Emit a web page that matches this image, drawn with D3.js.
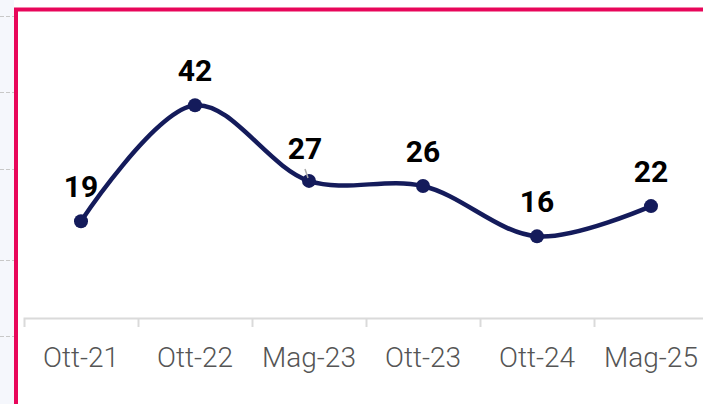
<!DOCTYPE html>
<html>
<head>
    <meta charset="utf-8" />
    <script src="https://d3js.org/d3.v7.min.js"></script>
    <style>
        body { margin: 0; background: #fff; }
        svg { display: block; }
        .tick text { font-family: Roboto, sans-serif; }
    </style>
</head>
<body>
    <script>
        var categories = ["Ott-21", "Ott-22", "Mag-23", "Ott-23", "Ott-24", "Mag-25"];
        var values = [19, 42, 27, 26, 16, 22];
        var sideGridRows = [16, 92, 169, 260, 336];

        var width = 703,
            height = 404,
            lineColor = "#141b5b",
            borderColor = "#e8065a";

        var svg = d3.select("body")
            .append("svg")
            .attr("width", width)
            .attr("height", height);

        // strip of the neighbouring panel on the left
        svg.append("rect")
            .attr("x", 0).attr("y", 0)
            .attr("width", 14).attr("height", height)
            .attr("fill", "#f5f7fc");

        svg.selectAll(".sidegrid")
            .data(sideGridRows)
            .enter().append("line")
            .attr("class", "sidegrid")
            .attr("x1", 0).attr("x2", 14)
            .attr("y1", function (d) { return d + 0.5; })
            .attr("y2", function (d) { return d + 0.5; })
            .attr("stroke", "#c8c8c8")
            .attr("stroke-width", 1)
            .attr("stroke-dasharray", "4,2");

        // pink frame (top and left)
        svg.append("path")
            .attr("d", "M16," + height + "V9.5H" + width)
            .attr("fill", "none")
            .attr("stroke", borderColor)
            .attr("stroke-width", 4);

        var x = d3.scaleBand()
            .domain(categories)
            .range([24, 24 + 114 * categories.length]);

        var y = d3.scaleLinear()
            .domain([0, 50])
            .range([317, 65]);

        var cx = function (d, i) { return x(categories[i]) + x.bandwidth() / 2; };

        // x axis
        var axis = svg.append("g")
            .attr("transform", "translate(0,318)")
            .call(d3.axisBottom(x).tickSizeInner(0).tickSizeOuter(9).tickPadding(29));

        axis.select(".domain")
            .attr("stroke", "#dadada")
            .attr("stroke-width", 2);
        axis.selectAll(".tick text")
            .attr("font-size", 28)
            .attr("font-weight", 300)
            .attr("fill", "#555555");

        axis.selectAll(".boundary")
            .data(categories.slice(1))
            .enter().append("line")
            .attr("class", "boundary")
            .attr("x1", function (d) { return x(d) + 0.5; })
            .attr("x2", function (d) { return x(d) + 0.5; })
            .attr("y1", 0).attr("y2", 9)
            .attr("stroke", "#dadada")
            .attr("stroke-width", 2);

        // line
        var line = d3.line()
            .x(cx)
            .y(function (d) { return y(d); })
            .curve(d3.curveCatmullRom.alpha(0.5));

        svg.append("path")
            .datum(values)
            .attr("d", line)
            .attr("fill", "none")
            .attr("stroke", lineColor)
            .attr("stroke-width", 4.5)
            .attr("stroke-linecap", "round");

        svg.selectAll(".dot")
            .data(values)
            .enter().append("circle")
            .attr("class", "dot")
            .attr("cx", cx)
            .attr("cy", function (d) { return y(d); })
            .attr("r", 7)
            .attr("fill", lineColor);

        // small leader line for the shifted label (27)
        svg.append("line")
            .attr("x1", cx(values[2], 2) - 4).attr("y1", y(values[2]) - 12)
            .attr("x2", cx(values[2], 2) - 1).attr("y2", y(values[2]) - 3)
            .attr("stroke", "#aaaaaa")
            .attr("stroke-width", 1.5);

        svg.selectAll(".label")
            .data(values)
            .enter().append("text")
            .attr("class", "label")
            .attr("x", function (d, i) { return cx(d, i) + (i == 2 ? -4 : 0); })
            .attr("y", function (d, i) { return y(d) - (i == 2 ? 22 : 24); })
            .attr("text-anchor", "middle")
            .attr("font-family", "Roboto, sans-serif")
            .attr("font-weight", 700)
            .attr("font-size", 30)
            .attr("fill", "#000")
            .text(function (d) { return d; });
    </script>
</body>
</html>
